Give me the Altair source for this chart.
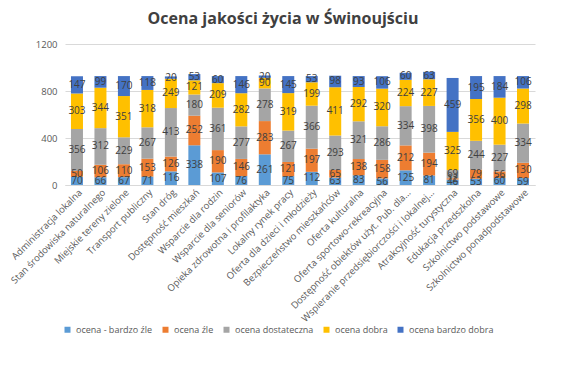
import altair as alt
import pandas as pd

categories = [
    "Administracja lokalna", "Stan środowiska naturalnego", "Miejskie tereny zielone",
    "Transport publiczny", "Stan dróg", "Dostępność mieszkań", "Wsparcie dla rodzin",
    "Wsparcie dla seniorów", "Opieka zdrowotna i profilaktyka", "Lokalny rynek pracy",
    "Oferta dla dzieci i młodzieży", "Bezpieczeństwo mieszkańców", "Oferta kulturalna",
    "Oferta sportowo-rekreacyjna", "Dostępność obiektów użyt. Pub. dla...",
    "Wspieranie przedsiębiorczości i lokalnej...", "Atrakcyjność turystyczna",
    "Edukacja przedszkolna", "Szkolnictwo podstawowe", "Szkolnictwo ponadpodstawowe",
]
series = ["ocena - bardzo źle", "ocena źle", "ocena dostateczna", "ocena dobra", "ocena bardzo dobra"]
colors = ["#5B9BD5", "#ED7D31", "#A5A5A5", "#FFC000", "#4472C4"]

bardzo_zle = [70, 66, 67, 71, 116, 338, 107, 76, 261, 75, 112, 63, 83, 56, 125, 81, 46, 53, 60, 59]
zle = [50, 106, 110, 153, 126, 252, 190, 146, 283, 121, 197, 65, 138, 158, 212, 194, 12, 79, 56, 130]
dostateczna = [356, 312, 229, 267, 413, 180, 361, 277, 278, 267, 366, 293, 321, 286, 334, 398, 69, 244, 227, 334]
dobra = [303, 344, 351, 318, 249, 121, 209, 282, 90, 319, 199, 411, 292, 320, 224, 227, 325, 356, 400, 298]
bardzo_dobra = [147, 99, 170, 118, 20, 53, 60, 146, 20, 145, 53, 98, 93, 106, 60, 63, 459, 195, 184, 106]

values = [bardzo_zle, zle, dostateczna, dobra, bardzo_dobra]
rows = []
for si, (s, vals) in enumerate(zip(series, values)):
    for c, v in zip(categories, vals):
        rows.append({"cat": c, "series": s, "order": si, "value": v})
df = pd.DataFrame(rows)

x_enc = alt.X("cat:N", sort=categories, title=None,
              scale=alt.Scale(paddingInner=0.48, paddingOuter=0.25),
              axis=alt.Axis(labelAngle=-45, labelAlign="right", labelBaseline="top",
                            labelFontSize=9.5, labelColor="#595959", labelFont="Open Sans",
                            ticks=False, domainColor="#D9D9D9", labelPadding=2, labelLimit=300))

base = alt.Chart(df).transform_stack(
    stack="value", groupby=["cat"], sort=[alt.SortField("order", order="ascending")], as_=["y0", "y1"]
).transform_calculate(mid="(datum.y0 + datum.y1) / 2")

bars = base.mark_bar(size=12).encode(
    x=x_enc,
    y=alt.Y("y0:Q", title=None, scale=alt.Scale(domain=[0, 1200]),
            axis=alt.Axis(values=[0, 200, 400, 600, 800, 1000, 1200], format="d", ticks=False,
                          domain=False, gridColor="#D9D9D9", labelColor="#595959", labelFontSize=9.5,
                          labelFont="Open Sans", labelPadding=8)),
    y2="y1:Q",
    color=alt.Color("series:N", sort=series, scale=alt.Scale(domain=series, range=colors),
                    legend=alt.Legend(title=None, orient="none", direction="horizontal",
                                      legendX=-2, legendY=281, symbolType="square", symbolSize=36,
                                      labelFontSize=9, labelColor="#595959", labelFont="Open Sans",
                                      columnPadding=8, symbolStrokeWidth=0)),
    order=alt.Order("order:Q"),
)

labels = base.mark_text(fontSize=10, color="#404040", font="Open Sans").encode(
    x=alt.X("cat:N", sort=categories),
    y=alt.Y("mid:Q"),
    text="value:Q",
)

chart = alt.layer(bars, labels).properties(
    width=470, height=141,
    title=alt.TitleParams("Ocena jakości życia w Świnoujściu", fontSize=16, font="Open Sans",
                          fontWeight="bold", color="#404040", anchor="middle", dx=-17, offset=12),
    autosize=alt.AutoSizeParams(type="none"),
    padding={"left": 57, "top": 36, "right": 27, "bottom": 175},
).configure_view(stroke=None)

chart.save("out.html", embed_options={"renderer": "svg", "actions": False})
